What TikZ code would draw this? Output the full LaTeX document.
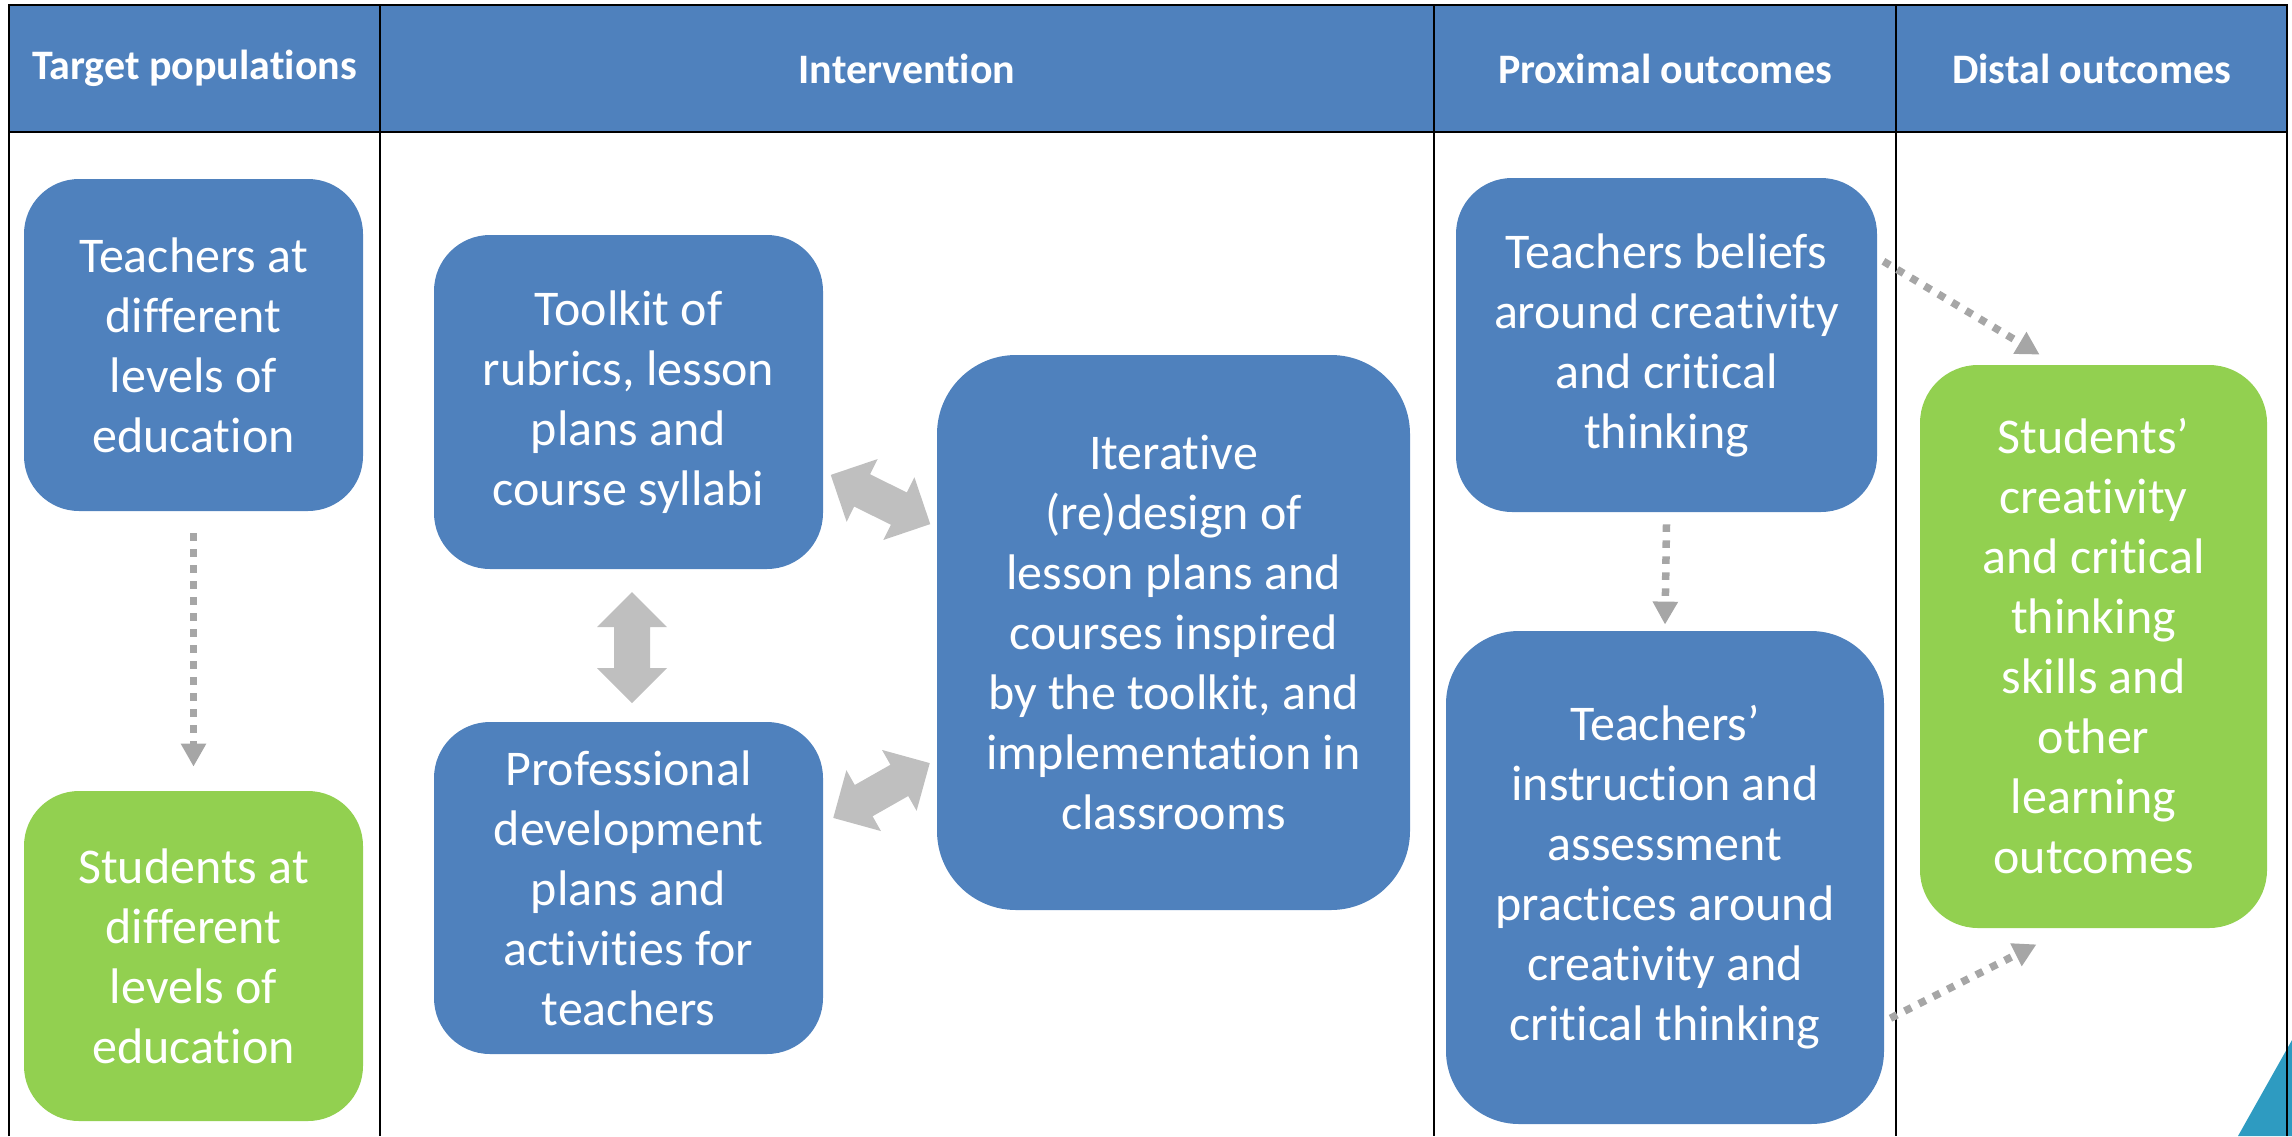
\documentclass[tikz,border=0pt]{standalone}
\usepackage{fontspec}
\setmainfont[Ligatures=NoCommon]{Carlito}
\usetikzlibrary{arrows.meta,calc}

\definecolor{azul}{HTML}{4F81BD}
\definecolor{verde}{HTML}{92D050}
\definecolor{grisflecha}{HTML}{BFBFBF}
\definecolor{grispunto}{HTML}{A6A6A6}
\definecolor{turquesa}{HTML}{2E9BC1}

\tikzset{
  caja/.style={fill=azul, text=white, align=center, inner sep=0pt,
    font=\fontsize{25pt}{30pt}\selectfont},
  cajaverde/.style={caja, fill=verde},
  titulo/.style={text=white, font=\fontsize{21pt}{25pt}\selectfont\bfseries},
  punteada/.style={draw=grispunto, line width=3.75pt,
    dash pattern=on 3.75pt off 4.25pt,
    -{Triangle[width=12pt,length=11.5pt]}},
}

% flecha doble gris: centro x, centro y, angulo
\newcommand{\flechadoble}[3]{%
  \fill[grisflecha, shift={(#1,#2)}, rotate=#3]
    (-55.5,0) -- (-20.5,35) -- (-20.5,18) -- (20.5,18) -- (20.5,35)
    -- (55.5,0) -- (20.5,-35) -- (20.5,-18) -- (-20.5,-18) -- (-20.5,-35) -- cycle;
}

\begin{document}
\begin{tikzpicture}[x=0.5pt,y=-0.5pt]
\useasboundingbox (0,0) rectangle (2292,1136);

% Encabezado sombreado
\fill[azul] (9,5) rectangle (2287,132);

% Triangulo de la esquina
\fill[turquesa] (2238,1136) -- (2292,1040) -- (2292,1136) -- cycle;

% Bordes de la tabla
\draw[line width=1pt] (9,1136) -- (9,5) -- (2287,5) -- (2287,1136);
\draw[line width=1pt] (9,132) -- (2287,132);
\foreach \x in {380,1434,1896}
  \draw[line width=1pt] (\x,5) -- (\x,1136);

% Titulos
\node[titulo] (t1) at (194.5,68.5) {Target populations};
\node[titulo] (t2) at (907,68.5) {Intervention};
\node[titulo] (t3) at (1665,68.5) {Proximal outcomes};
\node[titulo] (t4) at (2091.5,68.5) {Distal outcomes};

% Cajas
\node[caja, rounded corners=27.5pt, minimum width=169.5pt, minimum height=166pt]
  (b1) at (193.5,345) {Teachers at\\different\\levels of\\education};
\node[cajaverde, rounded corners=27.5pt, minimum width=169.5pt, minimum height=165pt]
  (b2) at (193.5,956) {Students at\\different\\levels of\\education};
\node[caja, rounded corners=28pt, minimum width=194.5pt, minimum height=167pt]
  (b3) at (628.5,402) {Toolkit of\\rubrics, lesson\\plans and\\course syllabi};
\node[caja, rounded corners=28pt, minimum width=194.5pt, minimum height=166pt]
  (b4) at (628.5,888) {Professional\\development\\plans and\\activities for\\teachers};
\node[caja, rounded corners=39.5pt, minimum width=236.5pt, minimum height=277.5pt]
  (b5) at (1173.5,632.5) {Iterative\\(re)design of\\lesson plans and\\courses inspired\\by the toolkit, and\\implementation in\\classrooms};
\node[caja, rounded corners=28pt, minimum width=210.5pt, minimum height=167pt]
  (b6) at (1666.5,345) {Teachers beliefs\\around creativity\\and critical\\thinking};
\node[caja, rounded corners=36.5pt, minimum width=219pt, minimum height=246.5pt]
  (b7) at (1665,877.5) {Teachers’\\instruction and\\assessment\\practices around\\creativity and\\critical thinking};
\node[cajaverde, rounded corners=29pt, minimum width=173.5pt, minimum height=281.5pt]
  (b8) at (2093.5,646.5) {Students’\\creativity\\and critical\\thinking\\skills and\\other\\learning\\outcomes};

% Flechas dobles
\flechadoble{632}{647.5}{90}
\flechadoble{880.5}{499.5}{-26.3}
\flechadoble{881.5}{790.5}{29.6}

% Flechas punteadas
\draw[punteada] ([yshift=-11pt]b1.south) -- ([yshift=12pt]b2.north);
\draw[punteada] ([yshift=-6pt]b6.south) -- ([yshift=3pt]b7.north);
\draw[punteada] ([xshift=3pt]$(b6.north east)!0.25!(b6.south east)$)
  -- ([yshift=5pt]$(b8.north west)!0.345!(b8.north east)$);
\draw[punteada] ([xshift=3pt]$(b7.north east)!0.785!(b7.south east)$)
  -- ([yshift=-8pt]$(b8.south west)!0.336!(b8.south east)$);

\end{tikzpicture}
\end{document}
